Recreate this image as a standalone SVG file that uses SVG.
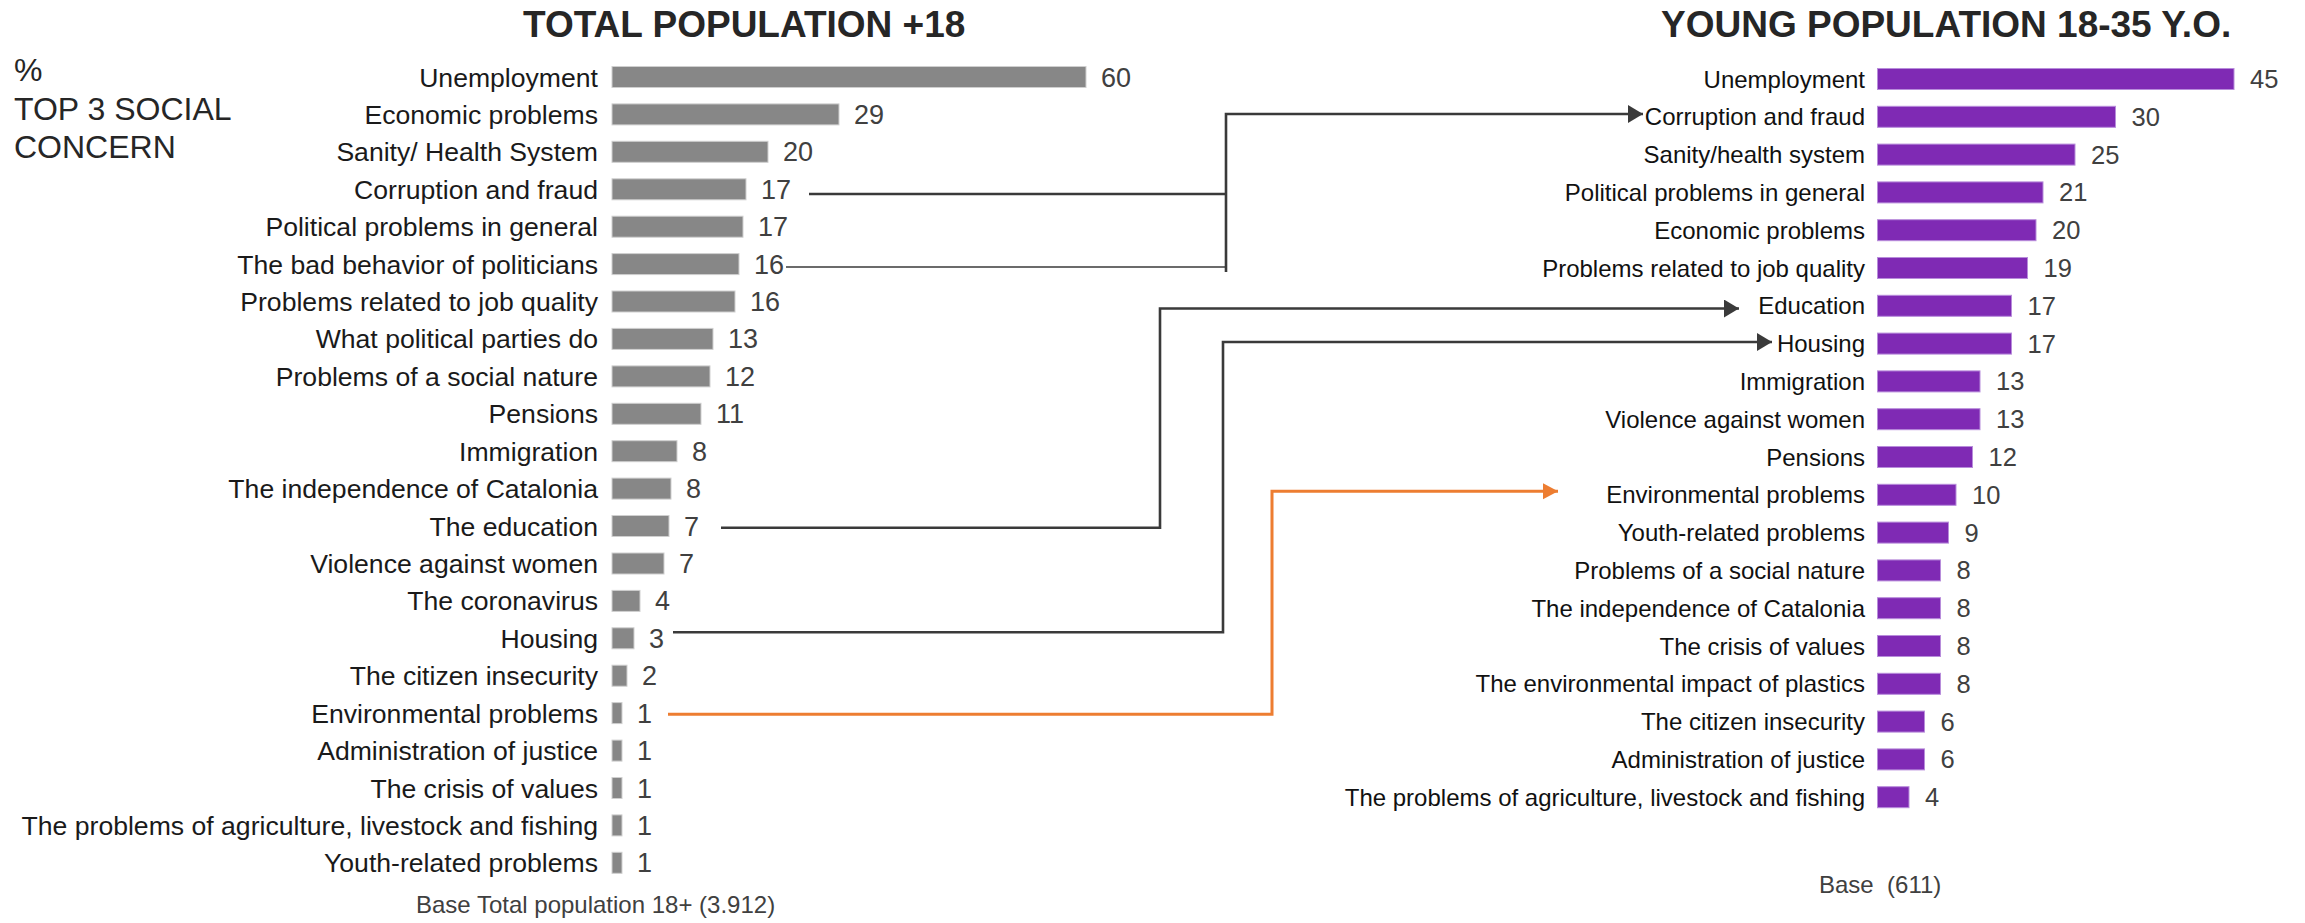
<svg xmlns="http://www.w3.org/2000/svg" width="2305" height="923" viewBox="0 0 2305 923">
<style>
text{font-family:"Liberation Sans",Arial,sans-serif}
.title{font-size:37px;font-weight:bold;fill:#262626}
.side{font-size:32px;fill:#262626}
.ll{font-size:26.6px;fill:#1a1a1a;text-anchor:end}
.lv{font-size:27px;fill:#404040}
.rl{font-size:24px;fill:#111;text-anchor:end}
.rv{font-size:25.5px;fill:#404040}
.base{font-size:24px;fill:#404040}
.gb{fill:#878787;stroke:#cfcfcf;stroke-width:1}
.pb{fill:#7f2ab4;stroke:#b88ddb;stroke-width:1}
.cn{fill:none;stroke:#3a3a3a;stroke-width:2.6}
.cnt{fill:none;stroke:#3a3a3a;stroke-width:1.3}
.co{fill:none;stroke:#ed7d31;stroke-width:3}
</style>
<defs>
<marker id="ad" markerUnits="userSpaceOnUse" markerWidth="16" markerHeight="18" refX="15" refY="9" orient="auto"><path d="M0,0 L15,9 L0,18 Z" fill="#3a3a3a"/></marker>
<marker id="ao" markerUnits="userSpaceOnUse" markerWidth="16" markerHeight="18" refX="15" refY="8" orient="auto"><path d="M0,0 L15,8 L0,16 Z" fill="#ed7d31"/></marker>
</defs>

<g id="title-total"><text class="title" x="523" y="37">TOTAL POPULATION +18</text></g>
<g id="title-young"><text class="title" x="1661" y="37">YOUNG POPULATION 18-35 Y.O.</text></g>
<g id="side-label">
<text class="side" x="14" y="81">%</text>
<text class="side" x="14" y="120">TOP 3 SOCIAL</text>
<text class="side" x="14" y="158">CONCERN</text>
</g>

<g id="left-chart">
<g id="l0"><text class="ll" x="598" y="86.5">Unemployment</text><rect class="gb" x="612" y="66.5" width="474" height="21"/><text class="lv" x="1101" y="86.5">60</text></g>
<g id="l1"><text class="ll" x="598" y="123.9">Economic problems</text><rect class="gb" x="612" y="103.9" width="227" height="21"/><text class="lv" x="854" y="123.9">29</text></g>
<g id="l2"><text class="ll" x="598" y="161.3">Sanity/ Health System</text><rect class="gb" x="612" y="141.3" width="156" height="21"/><text class="lv" x="783" y="161.3">20</text></g>
<g id="l3"><text class="ll" x="598" y="198.8">Corruption and fraud</text><rect class="gb" x="612" y="178.8" width="134" height="21"/><text class="lv" x="761" y="198.8">17</text></g>
<g id="l4"><text class="ll" x="598" y="236.2">Political problems in general</text><rect class="gb" x="612" y="216.2" width="131" height="21"/><text class="lv" x="758" y="236.2">17</text></g>
<g id="l5"><text class="ll" x="598" y="273.6">The bad behavior of politicians</text><rect class="gb" x="612" y="253.6" width="127" height="21"/><text class="lv" x="754" y="273.6">16</text></g>
<g id="l6"><text class="ll" x="598" y="311">Problems related to job quality</text><rect class="gb" x="612" y="291" width="123" height="21"/><text class="lv" x="750" y="311">16</text></g>
<g id="l7"><text class="ll" x="598" y="348.4">What political parties do</text><rect class="gb" x="612" y="328.4" width="101" height="21"/><text class="lv" x="728" y="348.4">13</text></g>
<g id="l8"><text class="ll" x="598" y="385.9">Problems of a social nature</text><rect class="gb" x="612" y="365.9" width="98" height="21"/><text class="lv" x="725" y="385.9">12</text></g>
<g id="l9"><text class="ll" x="598" y="423.3">Pensions</text><rect class="gb" x="612" y="403.3" width="89" height="21"/><text class="lv" x="716" y="423.3">11</text></g>
<g id="l10"><text class="ll" x="598" y="460.7">Immigration</text><rect class="gb" x="612" y="440.7" width="65" height="21"/><text class="lv" x="692" y="460.7">8</text></g>
<g id="l11"><text class="ll" x="598" y="498.1">The independence of Catalonia</text><rect class="gb" x="612" y="478.1" width="59" height="21"/><text class="lv" x="686" y="498.1">8</text></g>
<g id="l12"><text class="ll" x="598" y="535.5">The education</text><rect class="gb" x="612" y="515.5" width="57" height="21"/><text class="lv" x="684" y="535.5">7</text></g>
<g id="l13"><text class="ll" x="598" y="573">Violence against women</text><rect class="gb" x="612" y="553" width="52" height="21"/><text class="lv" x="679" y="573">7</text></g>
<g id="l14"><text class="ll" x="598" y="610.4">The coronavirus</text><rect class="gb" x="612" y="590.4" width="28" height="21"/><text class="lv" x="655" y="610.4">4</text></g>
<g id="l15"><text class="ll" x="598" y="647.8">Housing</text><rect class="gb" x="612" y="627.8" width="22" height="21"/><text class="lv" x="649" y="647.8">3</text></g>
<g id="l16"><text class="ll" x="598" y="685.2">The citizen insecurity</text><rect class="gb" x="612" y="665.2" width="15" height="21"/><text class="lv" x="642" y="685.2">2</text></g>
<g id="l17"><text class="ll" x="598" y="722.6">Environmental problems</text><rect class="gb" x="612" y="702.6" width="10" height="21"/><text class="lv" x="637" y="722.6">1</text></g>
<g id="l18"><text class="ll" x="598" y="760.1">Administration of justice</text><rect class="gb" x="612" y="740.1" width="10" height="21"/><text class="lv" x="637" y="760.1">1</text></g>
<g id="l19"><text class="ll" x="598" y="797.5">The crisis of values</text><rect class="gb" x="612" y="777.5" width="10" height="21"/><text class="lv" x="637" y="797.5">1</text></g>
<g id="l20"><text class="ll" x="598" y="834.9">The problems of agriculture, livestock and fishing</text><rect class="gb" x="612" y="814.9" width="10" height="21"/><text class="lv" x="637" y="834.9">1</text></g>
<g id="l21"><text class="ll" x="598" y="872.3">Youth-related problems</text><rect class="gb" x="612" y="852.3" width="10" height="21"/><text class="lv" x="637" y="872.3">1</text></g>
</g>
<g id="left-base"><text class="base" x="416" y="913">Base Total population 18+ (3.912)</text></g>

<g id="right-chart">
<g id="r0"><text class="rl" x="1865" y="87.5">Unemployment</text><rect class="pb" x="1877.5" y="68.5" width="356.5" height="21"/><text class="rv" x="2250" y="88">45</text></g>
<g id="r1"><text class="rl" x="1865" y="125.3">Corruption and fraud</text><rect class="pb" x="1877.5" y="106.3" width="238" height="21"/><text class="rv" x="2131.5" y="125.8">30</text></g>
<g id="r2"><text class="rl" x="1865" y="163.1">Sanity/health system</text><rect class="pb" x="1877.5" y="144.1" width="197.5" height="21"/><text class="rv" x="2091" y="163.6">25</text></g>
<g id="r3"><text class="rl" x="1865" y="200.9">Political problems in general</text><rect class="pb" x="1877.5" y="181.9" width="165.5" height="21"/><text class="rv" x="2059" y="201.4">21</text></g>
<g id="r4"><text class="rl" x="1865" y="238.7">Economic problems</text><rect class="pb" x="1877.5" y="219.7" width="158.5" height="21"/><text class="rv" x="2052" y="239.2">20</text></g>
<g id="r5"><text class="rl" x="1865" y="276.5">Problems related to job quality</text><rect class="pb" x="1877.5" y="257.5" width="150" height="21"/><text class="rv" x="2043.5" y="277">19</text></g>
<g id="r6"><text class="rl" x="1865" y="314.3">Education</text><rect class="pb" x="1877.5" y="295.3" width="134" height="21"/><text class="rv" x="2027.5" y="314.8">17</text></g>
<g id="r7"><text class="rl" x="1865" y="352.1">Housing</text><rect class="pb" x="1877.5" y="333.1" width="134" height="21"/><text class="rv" x="2027.5" y="352.6">17</text></g>
<g id="r8"><text class="rl" x="1865" y="389.9">Immigration</text><rect class="pb" x="1877.5" y="370.9" width="102.5" height="21"/><text class="rv" x="1996" y="390.4">13</text></g>
<g id="r9"><text class="rl" x="1865" y="427.7">Violence against women</text><rect class="pb" x="1877.5" y="408.7" width="102.5" height="21"/><text class="rv" x="1996" y="428.2">13</text></g>
<g id="r10"><text class="rl" x="1865" y="465.5">Pensions</text><rect class="pb" x="1877.5" y="446.5" width="95" height="21"/><text class="rv" x="1988.5" y="466">12</text></g>
<g id="r11"><text class="rl" x="1865" y="503.3">Environmental problems</text><rect class="pb" x="1877.5" y="484.3" width="78.5" height="21"/><text class="rv" x="1972" y="503.8">10</text></g>
<g id="r12"><text class="rl" x="1865" y="541.1">Youth-related problems</text><rect class="pb" x="1877.5" y="522.1" width="71" height="21"/><text class="rv" x="1964.5" y="541.6">9</text></g>
<g id="r13"><text class="rl" x="1865" y="578.9">Problems of a social nature</text><rect class="pb" x="1877.5" y="559.9" width="63" height="21"/><text class="rv" x="1956.5" y="579.4">8</text></g>
<g id="r14"><text class="rl" x="1865" y="616.7">The independence of Catalonia</text><rect class="pb" x="1877.5" y="597.7" width="63" height="21"/><text class="rv" x="1956.5" y="617.2">8</text></g>
<g id="r15"><text class="rl" x="1865" y="654.5">The crisis of values</text><rect class="pb" x="1877.5" y="635.5" width="63" height="21"/><text class="rv" x="1956.5" y="655">8</text></g>
<g id="r16"><text class="rl" x="1865" y="692.3">The environmental impact of plastics</text><rect class="pb" x="1877.5" y="673.3" width="63" height="21"/><text class="rv" x="1956.5" y="692.8">8</text></g>
<g id="r17"><text class="rl" x="1865" y="730.1">The citizen insecurity</text><rect class="pb" x="1877.5" y="711.1" width="47" height="21"/><text class="rv" x="1940.5" y="730.6">6</text></g>
<g id="r18"><text class="rl" x="1865" y="767.9">Administration of justice</text><rect class="pb" x="1877.5" y="748.9" width="47" height="21"/><text class="rv" x="1940.5" y="768.4">6</text></g>
<g id="r19"><text class="rl" x="1865" y="805.7">The problems of agriculture, livestock and fishing</text><rect class="pb" x="1877.5" y="786.7" width="31.5" height="21"/><text class="rv" x="1925" y="806.2">4</text></g>
</g>
<g id="right-base"><text class="base" x="1819" y="893" xml:space="preserve">Base  (611)</text></g>

<g id="connectors">
<path class="cn" d="M809,194 H1226"/>
<path class="cnt" d="M786,267 H1226"/>
<path class="cn" d="M1226,272 V114 H1643" marker-end="url(#ad)"/>
<path class="cn" d="M721,527.7 H1160 V308.5 H1739" marker-end="url(#ad)"/>
<path class="cn" d="M673,632.3 H1223 V342 H1772" marker-end="url(#ad)"/>
<path class="co" d="M668,714.3 H1272 V491.3 H1558" marker-end="url(#ao)"/>
</g>
</svg>
